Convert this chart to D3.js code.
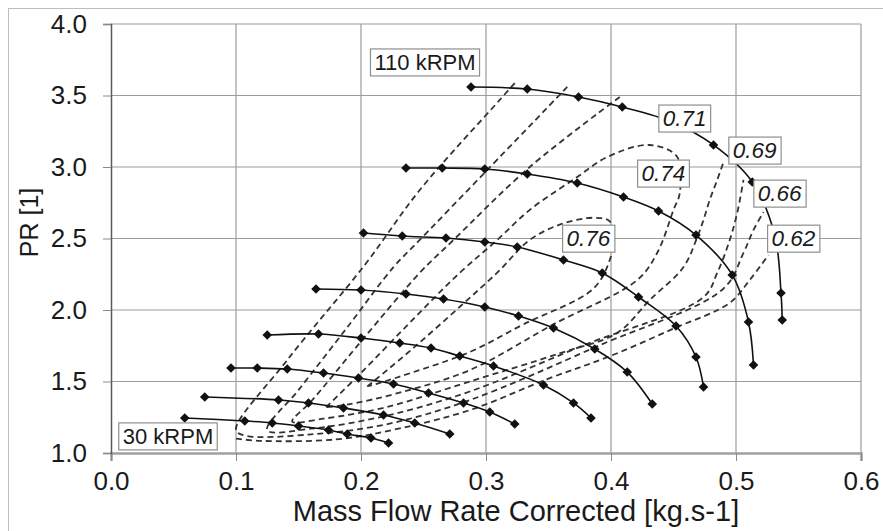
<!DOCTYPE html>
<html>
<head>
<meta charset="utf-8">
<script src="https://cdn.jsdelivr.net/npm/d3@7"></script>
<style>
  body { margin: 0; background: #fff; }
  text { font-family: "Liberation Sans", Arial, sans-serif; fill: #1a1a1a; }
</style>
</head>
<body>
<div id="chart"></div>
<script>
// speed lines, [mass flow, PR], lowest (30 kRPM) to highest (110 kRPM)
var line1 = [[0.059,1.245],[0.107,1.224],[0.129,1.210],[0.150,1.189],[0.174,1.161],[0.189,1.133],[0.208,1.105],[0.222,1.070]];
var line2 = [[0.075,1.392],[0.134,1.371],[0.158,1.350],[0.186,1.315],[0.218,1.266],[0.243,1.210],[0.271,1.133]];
var line3 = [[0.096,1.594],[0.117,1.594],[0.141,1.587],[0.170,1.559],[0.198,1.524],[0.226,1.483],[0.254,1.420],[0.282,1.350],[0.303,1.287],[0.323,1.203]];
var line4 = [[0.125,1.825],[0.166,1.832],[0.200,1.804],[0.231,1.769],[0.256,1.734],[0.279,1.678],[0.306,1.608],[0.346,1.476],[0.370,1.350],[0.384,1.245]];
var line5 = [[0.164,2.147],[0.200,2.140],[0.236,2.112],[0.266,2.077],[0.299,2.021],[0.326,1.958],[0.354,1.874],[0.387,1.727],[0.413,1.566],[0.433,1.343]];
var line6 = [[0.202,2.538],[0.233,2.517],[0.268,2.503],[0.299,2.476],[0.325,2.441],[0.362,2.350],[0.393,2.259],[0.422,2.091],[0.452,1.888],[0.468,1.671],[0.474,1.462]];
var line7 = [[0.236,2.993],[0.265,2.993],[0.299,2.986],[0.333,2.951],[0.373,2.888],[0.410,2.790],[0.438,2.692],[0.468,2.524],[0.497,2.245],[0.510,1.916],[0.514,1.615]];
var line8 = [[0.288,3.559],[0.333,3.545],[0.374,3.490],[0.409,3.420],[0.449,3.315],[0.482,3.154],[0.513,2.895],[0.531,2.524],[0.536,2.119],[0.537,1.930]];

// efficiency contours (dashed)
var eff76 = [[0.205,1.465],[0.24,1.72],[0.28,2.03],[0.31,2.27],[0.335,2.49],[0.36,2.60],[0.386,2.645],[0.399,2.62],[0.402,2.50],[0.399,2.35],[0.386,2.15],[0.33,1.90],[0.287,1.706],[0.24,1.56],[0.215,1.49],[0.205,1.465]];
var eff74 = [[0.172,1.32],[0.20,1.56],[0.24,1.92],[0.279,2.26],[0.309,2.49],[0.335,2.70],[0.373,2.93],[0.397,3.07],[0.431,3.154],[0.453,3.07],[0.455,2.818],[0.45,2.70],[0.437,2.40],[0.421,2.21],[0.354,1.90],[0.287,1.58],[0.23,1.42],[0.19,1.34],[0.172,1.32]];
var eff71 = [[0.407,3.49],[0.335,3.00],[0.274,2.49],[0.247,2.26],[0.20,1.78],[0.16,1.36],[0.145,1.22],[0.17,1.24],[0.22,1.32],[0.287,1.50],[0.36,1.70],[0.405,1.84],[0.431,2.07],[0.458,2.30],[0.469,2.51],[0.474,2.63],[0.479,2.77],[0.485,2.91],[0.49,3.035]];
var eff69 = [[0.365,3.56],[0.301,2.979],[0.247,2.49],[0.226,2.30],[0.19,1.89],[0.15,1.44],[0.125,1.16],[0.16,1.17],[0.22,1.26],[0.287,1.43],[0.38,1.76],[0.474,2.09],[0.485,2.26],[0.495,2.49],[0.501,2.68],[0.506,2.91]];
var eff66 = [[0.323,3.587],[0.311,3.469],[0.247,2.839],[0.203,2.315],[0.141,1.65],[0.10,1.16],[0.108,1.12],[0.16,1.13],[0.22,1.20],[0.287,1.37],[0.39,1.75],[0.49,2.15],[0.506,2.40],[0.514,2.56],[0.522,2.685]];
var eff62 = [[0.10,1.10],[0.12,1.085],[0.18,1.095],[0.23,1.17],[0.287,1.30],[0.35,1.52],[0.40,1.68],[0.45,1.87],[0.495,2.05],[0.511,2.21],[0.526,2.385]];

// text annotations, anchored in data units
var effLabels = [["0.71",0.459,3.343],["0.69",0.515,3.119],["0.74",0.442,2.958],["0.66",0.535,2.818],["0.76",0.382,2.503],["0.62",0.546,2.503]];
var speedLabels = [["110 kRPM",0.2512,3.734],["30 kRPM",0.0456,1.119]];

var xTicks = [0, 0.1, 0.2, 0.3, 0.4, 0.5, 0.6];
var yTicks = [1.0, 1.5, 2.0, 2.5, 3.0, 3.5, 4.0];

var svgWidth = 883;
var svgHeight = 531;
var margin = { top: 24, right: 22, bottom: 78, left: 111 };
var width = svgWidth - margin.left - margin.right;
var height = svgHeight - margin.top - margin.bottom;

var svg = d3.select("#chart")
  .append("svg")
  .attr("width", svgWidth)
  .attr("height", svgHeight);

// outer chart frame
svg.append("rect")
  .attr("x", 8.5).attr("y", 8.5)
  .attr("width", svgWidth).attr("height", svgHeight)
  .attr("fill", "none")
  .attr("stroke", "#bdbdbd");

var chartGroup = svg.append("g")
  .attr("transform", `translate(${margin.left}, ${margin.top})`);

var x = d3.scaleLinear().domain([0, 0.6]).range([0, width]);
var y = d3.scaleLinear().domain([1, 4]).range([height, 0]);

// gridlines
chartGroup.selectAll(".vgrid")
  .data(xTicks.slice(1))
  .enter().append("line")
  .attr("x1", d => x(d)).attr("x2", d => x(d))
  .attr("y1", 0).attr("y2", height)
  .attr("stroke", "#9c9c9c").attr("stroke-width", 1.2);

chartGroup.selectAll(".hgrid")
  .data(yTicks.slice(1))
  .enter().append("line")
  .attr("x1", 0).attr("x2", width)
  .attr("y1", d => y(d)).attr("y2", d => y(d))
  .attr("stroke", "#9c9c9c").attr("stroke-width", 1.2);

// axes
var bottomAxis = d3.axisBottom(x).tickValues(xTicks).tickSize(8).tickPadding(11).tickFormat(d3.format(".1f"));
var leftAxis = d3.axisLeft(y).tickValues(yTicks).tickSize(8).tickPadding(16).tickFormat(d3.format(".1f"));

var xAxisG = chartGroup.append("g")
  .attr("transform", `translate(0, ${height})`)
  .call(bottomAxis);
xAxisG.select(".domain").attr("stroke", "#a0a0a0").attr("stroke-width", 2.5);
xAxisG.selectAll(".tick line").attr("stroke", "#8a8a8a");
xAxisG.selectAll(".tick text").attr("font-size", "26px").attr("fill", "#1a1a1a");

var yAxisG = chartGroup.append("g").call(leftAxis);
yAxisG.select(".domain").attr("stroke", "#5a5a5a").attr("stroke-width", 1.5);
yAxisG.selectAll(".tick line").attr("stroke", "#8a8a8a");
yAxisG.selectAll(".tick text").attr("font-size", "26px").attr("fill", "#1a1a1a");
chartGroup.selectAll(".domain").attr("fill", "none");
chartGroup.selectAll(".tick text").style("font-family", "'Liberation Sans', Arial, sans-serif");

// efficiency contours
var contourLine = d3.line()
  .x(d => x(d[0]))
  .y(d => y(d[1]))
  .curve(d3.curveCatmullRom.alpha(0.5));

chartGroup.selectAll(".contour")
  .data([eff62, eff66, eff69, eff71, eff74, eff76])
  .enter().append("path")
  .attr("d", contourLine)
  .attr("fill", "none")
  .attr("stroke", "#333")
  .attr("stroke-width", 1.8)
  .attr("stroke-dasharray", "6,4");

// speed lines with diamond markers
var speedLine = d3.line()
  .x(d => x(d[0]))
  .y(d => y(d[1]))
  .curve(d3.curveCatmullRom.alpha(0.5));

var speedData = [line1, line2, line3, line4, line5, line6, line7, line8];

chartGroup.selectAll(".speed")
  .data(speedData)
  .enter().append("path")
  .attr("d", speedLine)
  .attr("fill", "none")
  .attr("stroke", "#111")
  .attr("stroke-width", 1.6);

var diamond = d3.symbol().type(d3.symbolSquare).size(46);
chartGroup.selectAll(".marker")
  .data(speedData.flat())
  .enter().append("path")
  .attr("d", diamond)
  .attr("transform", d => `translate(${x(d[0])}, ${y(d[1])}) rotate(45)`)
  .attr("fill", "#111");

// boxed labels
function boxLabel(d, italic, size) {
  var g = chartGroup.append("g");
  var t = g.append("text")
    .attr("x", x(d[1])).attr("y", y(d[2]))
    .attr("text-anchor", "middle")
    .attr("dy", "0.36em")
    .attr("font-size", size)
    .attr("font-style", italic ? "italic" : "normal")
    .text(d[0]);
  var bb = t.node().getBBox();
  g.insert("rect", "text")
    .attr("x", bb.x - 4).attr("y", bb.y - 1)
    .attr("width", bb.width + 8).attr("height", bb.height + 2)
    .attr("fill", "#fff")
    .attr("stroke", "#8f8f8f")
    .attr("stroke-width", 1.2);
}
effLabels.forEach(d => boxLabel(d, true, "22.5px"));
speedLabels.forEach(d => boxLabel(d, false, "22px"));

// axis titles
chartGroup.append("text")
  .attr("x", 405)
  .attr("y", height + 68)
  .attr("text-anchor", "middle")
  .attr("font-size", "29px")
  .text("Mass Flow Rate Corrected [kg.s-1]");

chartGroup.append("text")
  .attr("transform", "rotate(-90)")
  .attr("x", 0 - (height / 2) + 16)
  .attr("y", 0 - margin.left + 38)
  .attr("text-anchor", "middle")
  .attr("font-size", "25px")
  .text("PR [1]");
</script>
</body>
</html>
